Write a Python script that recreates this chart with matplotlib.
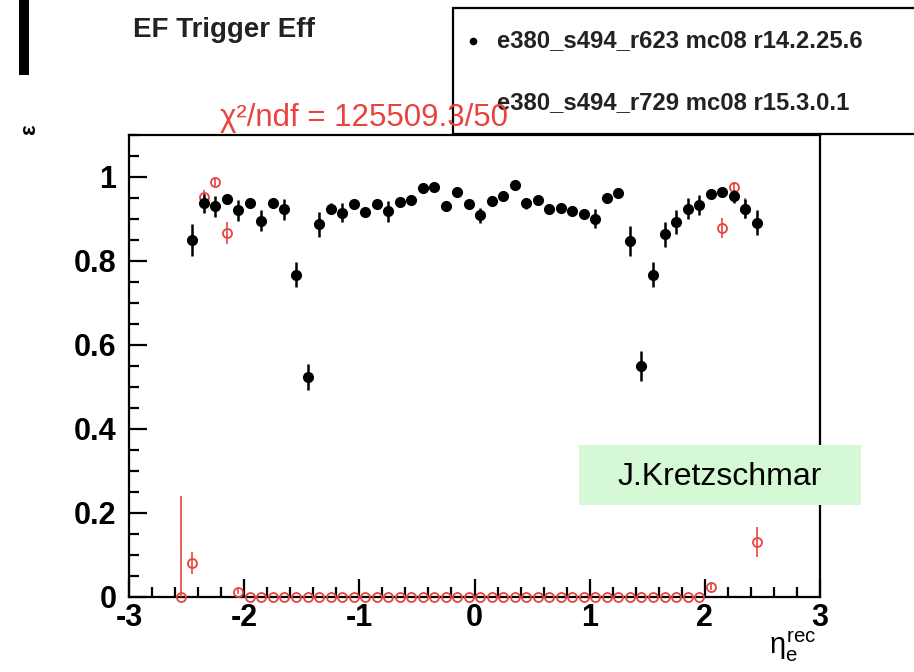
import numpy as np
import matplotlib
matplotlib.use('Agg')
import matplotlib.pyplot as plt
from matplotlib.patches import Rectangle
from matplotlib.lines import Line2D
from matplotlib.ticker import MultipleLocator

plt.rcParams['font.family'] = ['Liberation Sans', 'DejaVu Sans']
plt.rcParams['axes.unicode_minus'] = False
plt.rcParams['mathtext.fontset'] = 'custom'
plt.rcParams['mathtext.rm'] = 'Liberation Sans'
plt.rcParams['mathtext.it'] = 'Liberation Sans'

# binning: 50 bins in eta for r14, red (r15) histogram shifted by one bin
eta_edges = np.linspace(-2.5, 2.5, 51)
eta_black = 0.5 * (eta_edges[:-1] + eta_edges[1:])
eta_edges_red = np.linspace(-2.6, 2.5, 52)
eta_red = 0.5 * (eta_edges_red[:-1] + eta_edges_red[1:])

# e380_s494_r623 mc08 r14.2.25.6
eff_black = [0.850, 0.937, 0.930, 0.947, 0.921, 0.939, 0.896, 0.938, 0.923, 0.767,
             0.524, 0.887, 0.925, 0.915, 0.935, 0.917, 0.935, 0.919, 0.941, 0.946,
             0.975, 0.976, 0.930, 0.964, 0.935, 0.909, 0.942, 0.954, 0.982, 0.937,
             0.945, 0.923, 0.927, 0.919, 0.912, 0.901, 0.949, 0.962, 0.848, 0.550,
             0.767, 0.864, 0.893, 0.925, 0.933, 0.959, 0.964, 0.954, 0.925, 0.891]
err_black = [0.037, 0.022, 0.025, 0.010, 0.025, 0.012, 0.025, 0.012, 0.025, 0.030,
             0.030, 0.030, 0.012, 0.022, 0.012, 0.012, 0.012, 0.025, 0.012, 0.012,
             0.010, 0.010, 0.012, 0.010, 0.012, 0.018, 0.012, 0.010, 0.010, 0.012,
             0.012, 0.012, 0.012, 0.012, 0.012, 0.022, 0.012, 0.010, 0.035, 0.036,
             0.030, 0.030, 0.028, 0.026, 0.024, 0.010, 0.010, 0.015, 0.022, 0.030]

# e380_s494_r729 mc08 r15.3.0.1
eff_red = [0.000, 0.081, 0.953, 0.988, 0.867, 0.013, 0.000, 0.000, 0.000, 0.000,
           0.000, 0.000, 0.000, 0.000, 0.000, 0.000, 0.000, 0.000, 0.000, 0.000,
           0.000, 0.000, 0.000, 0.000, 0.000, 0.000, 0.000, 0.000, 0.000, 0.000,
           0.000, 0.000, 0.000, 0.000, 0.000, 0.000, 0.000, 0.000, 0.000, 0.000,
           0.000, 0.000, 0.000, 0.000, 0.000, 0.000, 0.024, 0.879, 0.976, 0.925,
           0.131]
err_red_lo = [0.000, 0.026, 0.015, 0.010, 0.026, 0.005, 0.000, 0.000, 0.000, 0.000,
              0.000, 0.000, 0.000, 0.000, 0.000, 0.000, 0.000, 0.000, 0.000, 0.000,
              0.000, 0.000, 0.000, 0.000, 0.000, 0.000, 0.000, 0.000, 0.000, 0.000,
              0.000, 0.000, 0.000, 0.000, 0.000, 0.000, 0.000, 0.000, 0.000, 0.000,
              0.000, 0.000, 0.000, 0.000, 0.000, 0.000, 0.008, 0.024, 0.012, 0.025,
              0.035]
err_red_hi = [0.240, 0.026, 0.015, 0.010, 0.026, 0.005, 0.000, 0.000, 0.000, 0.000,
              0.000, 0.000, 0.000, 0.000, 0.000, 0.000, 0.000, 0.000, 0.000, 0.000,
              0.000, 0.000, 0.000, 0.000, 0.000, 0.000, 0.000, 0.000, 0.000, 0.000,
              0.000, 0.000, 0.000, 0.000, 0.000, 0.000, 0.000, 0.000, 0.000, 0.000,
              0.000, 0.000, 0.000, 0.000, 0.000, 0.000, 0.008, 0.024, 0.012, 0.025,
              0.035]

label_black = 'e380_s494_r623 mc08 r14.2.25.6'
label_red = 'e380_s494_r729 mc08 r15.3.0.1'
red = '#e8433e'

fig = plt.figure(figsize=(9.14, 6.72), dpi=100)
ax = fig.add_axes([129 / 914, 1 - 597 / 672, 691 / 914, 462 / 672])

ax.errorbar(eta_red, eff_red, yerr=[err_red_lo, err_red_hi], fmt='o', color=red,
            mfc='none', mec=red, ms=6.5, mew=1.3, elinewidth=1.2, capsize=0,
            clip_on=False, zorder=3)
ax.errorbar(eta_black, eff_black, yerr=err_black, fmt='o', color='black',
            ms=7, elinewidth=1.8, capsize=0, zorder=4)

ax.set_xlim(-3, 3)
ax.set_ylim(0, 1.1)
ax.xaxis.set_major_locator(MultipleLocator(1))
ax.xaxis.set_minor_locator(MultipleLocator(0.2))
ax.yaxis.set_major_locator(MultipleLocator(0.2))
ax.yaxis.set_minor_locator(MultipleLocator(0.05))
ax.yaxis.set_major_formatter(plt.FuncFormatter(lambda v, p: '0' if abs(v) < 1e-9 else ('1' if abs(v - 1) < 1e-9 else f'{v:.1f}')))
ax.tick_params(which='both', direction='in', top=False, right=False, width=1.6)
ax.tick_params(which='major', length=13, labelsize=22)
ax.tick_params(which='minor', length=7)
ax.tick_params(axis='y', pad=9)
ax.tick_params(axis='x', pad=4)
for lab in ax.get_xticklabels() + ax.get_yticklabels():
    lab.set_fontweight('bold')
for s in ax.spines.values():
    s.set_linewidth(1.6)

# titles and annotations
fig.text(133 / 914, 1 - 30 / 672, 'EF Trigger Eff', fontsize=20, fontweight='bold',
         color='#222222', va='center', ha='left')
fig.text(220 / 914, 1 - 118 / 672, 'χ²/ndf = 125509.3/50', fontsize=22.5, color=red,
         va='center', ha='left', zorder=10)
fig.text(30 / 914, 1 - 130 / 672, 'ε', fontsize=16, fontweight='bold', rotation=90,
         va='center', ha='center')
fig.text(816 / 914, 1 - 630 / 672, r'$\eta_{e}^{rec}$', fontsize=21, ha='right', va='top')

# legend box (runs off the right edge)
fig.add_artist(Rectangle((453 / 914, 1 - 134 / 672), 500 / 914, 126 / 672,
                         transform=fig.transFigure, fill=False, lw=1.6, ec='black',
                         clip_on=False))
fig.add_artist(Line2D([473 / 914], [1 - 41 / 672], transform=fig.transFigure,
                      marker='o', ms=4.5, color='black', ls='none'))
fig.text(497 / 914, 1 - 41 / 672, label_black, fontsize=17.2, fontweight='bold',
         color='#222222', va='center', ha='left')
fig.text(497 / 914, 1 - 103 / 672, label_red, fontsize=17.2, fontweight='bold',
         color='#222222', va='center', ha='left')

# name tag
fig.add_artist(Rectangle((579 / 914, 1 - 505 / 672), 282 / 914, 60 / 672,
                         transform=fig.transFigure, color='#d5f8d5', lw=0, zorder=5))
fig.text(720 / 914, 1 - 477 / 672, 'J.Kretzschmar', fontsize=23, color='black',
         va='center', ha='center', zorder=6)

# slide bar at top left
fig.add_artist(Rectangle((19 / 914, 1 - 75 / 672), 10 / 914, 75 / 672,
                         transform=fig.transFigure, color='black', lw=0))

fig.savefig('out.png', dpi=100)
